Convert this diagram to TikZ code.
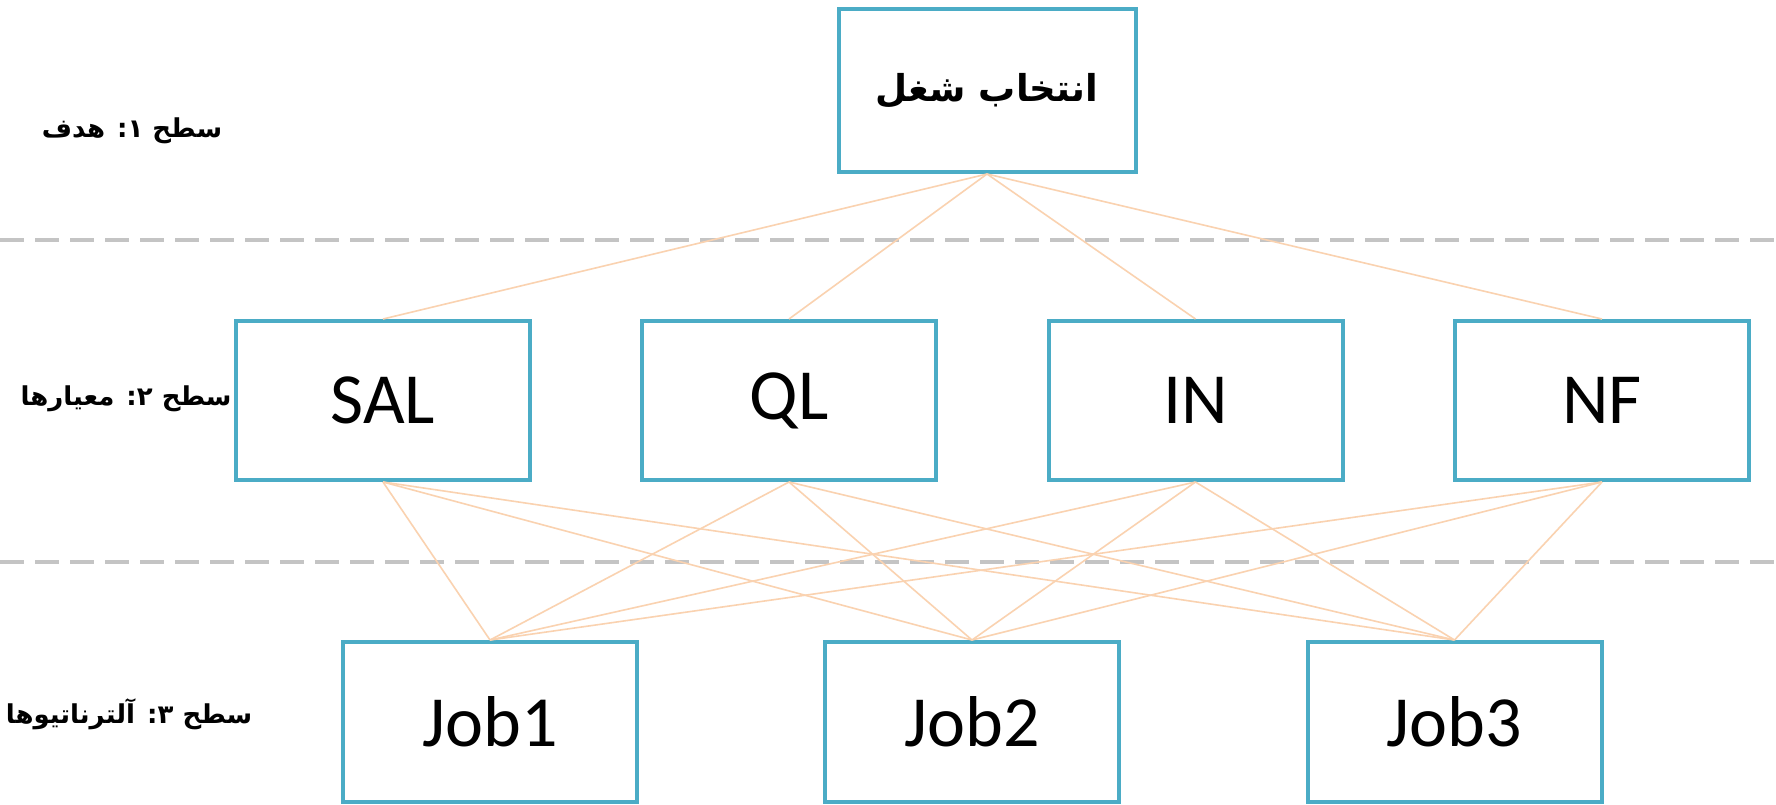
\documentclass[tikz,border=0pt]{standalone}
\usepackage{fontspec}
\setmainfont{Carlito}
\newfontfamily\pfont[Script=Arabic]{DejaVu Sans}
\TeXXeTstate=1
\definecolor{boxblue}{HTML}{4BACC6}
\definecolor{peach}{HTML}{FAD2B0}
\definecolor{dashgray}{HTML}{C4C4C4}
\begin{document}
\begin{tikzpicture}[x=1pt,y=-1pt,
  box/.style={draw=boxblue, line width=4pt, fill=white, rectangle, inner sep=0pt,
    minimum width=294pt, minimum height=159pt, font=\fontsize{72}{78}\selectfont},
  conn/.style={draw=peach, line width=1.6pt},
  sep/.style={draw=dashgray, line width=4pt, dash pattern=on 24pt off 11pt},
  lvl/.style={font=\pfont\bfseries\fontsize{26}{30}\selectfont, inner sep=0pt}]
\useasboundingbox (0,0) rectangle (1776,804);
\fill[white] (0,0) rectangle (1776,804);
% level separators
\coordinate (s1a) at (0,240); \coordinate (s1b) at (1776,240);
\coordinate (s2a) at (0,562); \coordinate (s2b) at (1776,562);
\draw[sep] (s1a) -- (s1b);
\draw[sep] (s2a) -- (s2b);
% level labels
\node[lvl] (l1) at (132,131) {\beginR سطح ۱: هدف\endR};
\node[lvl] (l2) at (126,399) {\beginR سطح ۲: معیارها\endR};
\node[lvl] (l3) at (129,714) {\beginR سطح ۳: آلترناتیوها\endR};
% goal
\node[box, minimum width=297pt, minimum height=163pt, font=\pfont\bfseries\fontsize{37}{42}\selectfont] (goal) at (987,90.5) {\beginR انتخاب شغل\endR};
% criteria
\node[box] (sal) at (383,400.5) {SAL};
\node[box] (ql) at (789,400.5) {QL};
\node[box] (in) at (1195.5,400.5) {IN};
\node[box] (nf) at (1602,400.5) {NF};
% alternatives
\node[box, minimum height=160pt] (j1) at (490,722) {Job1};
\node[box, minimum height=160pt] (j2) at (972,722) {Job2};
\node[box, minimum height=160pt] (j3) at (1454.5,722) {Job3};
% connectors
\foreach \c in {sal,ql,in,nf}{
  \draw[conn] (goal.south) -- (\c.north);
  \foreach \j in {j1,j2,j3}{
    \draw[conn] (\c.south) -- (\j.north);
  }
}
\end{tikzpicture}
\end{document}
